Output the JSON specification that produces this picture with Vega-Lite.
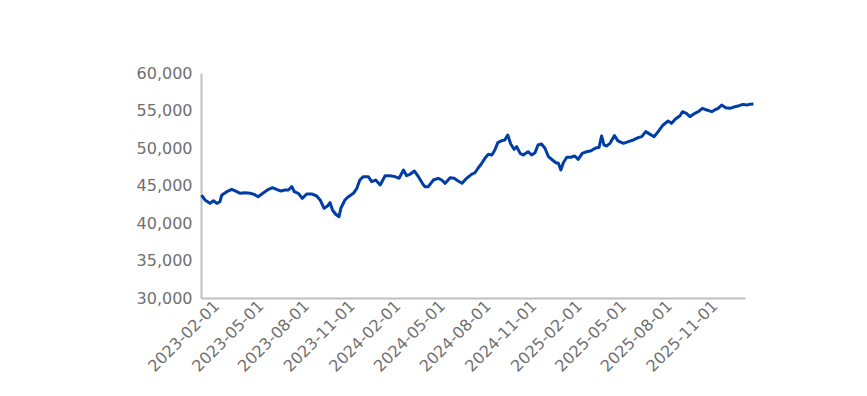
{
  "$schema": "https://vega.github.io/schema/vega-lite/v6.json",
  "autosize": {"type": "none"},
  "padding": {"left": 201, "top": 73, "right": 122, "bottom": 98},
  "width": 544,
  "height": 225,
  "background": "white",
  "config": {"view": {"stroke": null}, "font": "DejaVu Sans"},
  "data": {"values": [
    {"date": "2023-01-02", "value": 43730},
    {"date": "2023-01-09", "value": 43070},
    {"date": "2023-01-19", "value": 42620},
    {"date": "2023-01-26", "value": 42970},
    {"date": "2023-02-02", "value": 42620},
    {"date": "2023-02-08", "value": 42840},
    {"date": "2023-02-12", "value": 43730},
    {"date": "2023-02-22", "value": 44170},
    {"date": "2023-03-04", "value": 44490},
    {"date": "2023-03-10", "value": 44310},
    {"date": "2023-03-21", "value": 43960},
    {"date": "2023-03-31", "value": 44040},
    {"date": "2023-04-10", "value": 43960},
    {"date": "2023-04-18", "value": 43820},
    {"date": "2023-04-26", "value": 43510},
    {"date": "2023-05-07", "value": 44040},
    {"date": "2023-05-17", "value": 44490},
    {"date": "2023-05-25", "value": 44710},
    {"date": "2023-06-02", "value": 44490},
    {"date": "2023-06-11", "value": 44270},
    {"date": "2023-06-19", "value": 44400},
    {"date": "2023-06-26", "value": 44400},
    {"date": "2023-07-03", "value": 44840},
    {"date": "2023-07-08", "value": 44170},
    {"date": "2023-07-16", "value": 43960},
    {"date": "2023-07-24", "value": 43290},
    {"date": "2023-08-02", "value": 43870},
    {"date": "2023-08-12", "value": 43870},
    {"date": "2023-08-22", "value": 43600},
    {"date": "2023-08-29", "value": 43070},
    {"date": "2023-09-06", "value": 41960},
    {"date": "2023-09-13", "value": 42270},
    {"date": "2023-09-18", "value": 42710},
    {"date": "2023-09-23", "value": 41730},
    {"date": "2023-09-29", "value": 41200},
    {"date": "2023-10-06", "value": 40840},
    {"date": "2023-10-10", "value": 42000},
    {"date": "2023-10-18", "value": 43070},
    {"date": "2023-10-25", "value": 43510},
    {"date": "2023-11-04", "value": 43960},
    {"date": "2023-11-11", "value": 44620},
    {"date": "2023-11-17", "value": 45730},
    {"date": "2023-11-24", "value": 46180},
    {"date": "2023-12-04", "value": 46180},
    {"date": "2023-12-11", "value": 45510},
    {"date": "2023-12-19", "value": 45730},
    {"date": "2023-12-28", "value": 45070},
    {"date": "2024-01-07", "value": 46310},
    {"date": "2024-01-17", "value": 46310},
    {"date": "2024-01-27", "value": 46180},
    {"date": "2024-02-04", "value": 45960},
    {"date": "2024-02-13", "value": 47070},
    {"date": "2024-02-19", "value": 46310},
    {"date": "2024-02-26", "value": 46490},
    {"date": "2024-03-06", "value": 46930},
    {"date": "2024-03-14", "value": 46180},
    {"date": "2024-03-22", "value": 45290},
    {"date": "2024-03-27", "value": 44840},
    {"date": "2024-04-03", "value": 44840},
    {"date": "2024-04-13", "value": 45730},
    {"date": "2024-04-23", "value": 45960},
    {"date": "2024-04-30", "value": 45730},
    {"date": "2024-05-07", "value": 45290},
    {"date": "2024-05-17", "value": 46040},
    {"date": "2024-05-25", "value": 45960},
    {"date": "2024-06-02", "value": 45600},
    {"date": "2024-06-10", "value": 45290},
    {"date": "2024-06-19", "value": 45960},
    {"date": "2024-06-29", "value": 46490},
    {"date": "2024-07-06", "value": 46700},
    {"date": "2024-07-12", "value": 47300},
    {"date": "2024-07-18", "value": 47800},
    {"date": "2024-07-26", "value": 48620},
    {"date": "2024-08-02", "value": 49160},
    {"date": "2024-08-09", "value": 49070},
    {"date": "2024-08-15", "value": 49730},
    {"date": "2024-08-21", "value": 50710},
    {"date": "2024-08-29", "value": 50980},
    {"date": "2024-09-04", "value": 51070},
    {"date": "2024-09-10", "value": 51730},
    {"date": "2024-09-16", "value": 50530},
    {"date": "2024-09-23", "value": 49820},
    {"date": "2024-09-28", "value": 50180},
    {"date": "2024-10-05", "value": 49290},
    {"date": "2024-10-11", "value": 49070},
    {"date": "2024-10-21", "value": 49510},
    {"date": "2024-10-28", "value": 49070},
    {"date": "2024-11-04", "value": 49380},
    {"date": "2024-11-10", "value": 50400},
    {"date": "2024-11-17", "value": 50530},
    {"date": "2024-11-24", "value": 49960},
    {"date": "2024-12-01", "value": 48840},
    {"date": "2024-12-09", "value": 48400},
    {"date": "2024-12-16", "value": 48040},
    {"date": "2024-12-21", "value": 47960},
    {"date": "2024-12-26", "value": 47070},
    {"date": "2024-12-31", "value": 48040},
    {"date": "2025-01-07", "value": 48760},
    {"date": "2025-01-15", "value": 48760},
    {"date": "2025-01-23", "value": 48930},
    {"date": "2025-01-30", "value": 48490},
    {"date": "2025-02-07", "value": 49290},
    {"date": "2025-02-16", "value": 49510},
    {"date": "2025-02-25", "value": 49640},
    {"date": "2025-03-05", "value": 49960},
    {"date": "2025-03-13", "value": 50090},
    {"date": "2025-03-18", "value": 51600},
    {"date": "2025-03-23", "value": 50400},
    {"date": "2025-03-28", "value": 50270},
    {"date": "2025-04-04", "value": 50620},
    {"date": "2025-04-13", "value": 51650},
    {"date": "2025-04-20", "value": 50950},
    {"date": "2025-05-01", "value": 50620},
    {"date": "2025-05-11", "value": 50840},
    {"date": "2025-05-21", "value": 51070},
    {"date": "2025-05-31", "value": 51380},
    {"date": "2025-06-07", "value": 51510},
    {"date": "2025-06-15", "value": 52180},
    {"date": "2025-06-24", "value": 51820},
    {"date": "2025-07-02", "value": 51510},
    {"date": "2025-07-10", "value": 52180},
    {"date": "2025-07-20", "value": 53070},
    {"date": "2025-07-30", "value": 53600},
    {"date": "2025-08-06", "value": 53290},
    {"date": "2025-08-14", "value": 53870},
    {"date": "2025-08-23", "value": 54310},
    {"date": "2025-08-28", "value": 54840},
    {"date": "2025-09-05", "value": 54620},
    {"date": "2025-09-12", "value": 54180},
    {"date": "2025-09-22", "value": 54620},
    {"date": "2025-09-29", "value": 54840},
    {"date": "2025-10-07", "value": 55290},
    {"date": "2025-10-16", "value": 55070},
    {"date": "2025-10-26", "value": 54840},
    {"date": "2025-11-01", "value": 55070},
    {"date": "2025-11-08", "value": 55290},
    {"date": "2025-11-15", "value": 55730},
    {"date": "2025-11-23", "value": 55380},
    {"date": "2025-12-02", "value": 55290},
    {"date": "2025-12-12", "value": 55510},
    {"date": "2025-12-20", "value": 55640},
    {"date": "2025-12-28", "value": 55820},
    {"date": "2026-01-04", "value": 55730},
    {"date": "2026-01-11", "value": 55820},
    {"date": "2026-01-18", "value": 55870}
  ]},
  "mark": {"type": "line", "color": "#003DA5", "strokeWidth": 3, "strokeJoin": "round", "clip": false},
  "encoding": {
    "x": {
      "field": "date", "type": "temporal",
      "scale": {"domain": ["2023-01-01", "2026-01-01"]},
      "axis": {
        "title": null, "grid": false, "ticks": false,
        "values": ["2023-02-01", "2023-05-01", "2023-08-01", "2023-11-01", "2024-02-01", "2024-05-01", "2024-08-01", "2024-11-01", "2025-02-01", "2025-05-01", "2025-08-01", "2025-11-01"],
        "format": "%Y-%m-%d", "labelAngle": -45, "labelAlign": "right", "labelBaseline": "middle",
        "labelFontSize": 16, "labelColor": "#707070", "labelPadding": 5,
        "domainColor": "#BFBFBF", "domainWidth": 2, "labelOverlap": false
      }
    },
    "y": {
      "field": "value", "type": "quantitative",
      "scale": {"domain": [30000, 60000], "nice": false, "zero": false},
      "axis": {
        "title": null, "grid": false, "ticks": false,
        "values": [30000, 35000, 40000, 45000, 50000, 55000, 60000],
        "format": ",d", "labelFontSize": 16, "labelColor": "#707070", "labelPadding": 9,
        "domainColor": "#BFBFBF", "domainWidth": 2
      }
    }
  }
}
